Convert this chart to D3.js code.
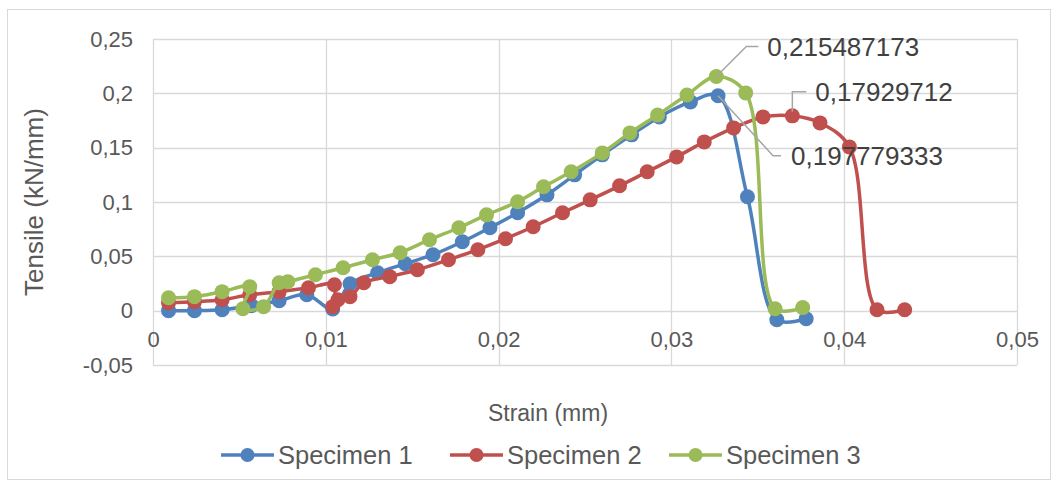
<!DOCTYPE html>
<html>
<head>
<meta charset="utf-8">
<script src="https://cdn.jsdelivr.net/npm/d3@7"></script>
<style>
  html, body { margin: 0; padding: 0; background: #ffffff; }
  svg { display: block; font-family: "Liberation Sans", Arial, sans-serif; }
</style>
</head>
<body>
<svg id="chart" width="1059" height="487"></svg>
<script>
// ---------- data ----------
const seriesNames = ["Specimen 1", "Specimen 2", "Specimen 3"];
const seriesColors = ["#4F81BD", "#C0504D", "#9BBB59"];

const strain1 = [0.0009,0.0024,0.0040,0.0057,0.0073,0.0089,0.0104,0.0114,0.0130,0.0146,0.0162,0.0179,0.0195,0.0211,0.0228,0.0244,0.0260,0.0277,0.0293,0.0311,0.0327,0.0344,0.0361,0.0378];
const tensile1 = [0.0000,0.0000,0.0009,0.0046,0.0092,0.0147,0.0015,0.0248,0.0349,0.0432,0.0515,0.0634,0.0763,0.0901,0.1066,0.1250,0.1434,0.1618,0.1783,0.1921,0.197779333,0.1048,-0.0083,-0.0074];

const strain2 = [0.0009,0.0024,0.0040,0.0056,0.0073,0.0090,0.0105,0.0104,0.0107,0.0114,0.0122,0.0137,0.0153,0.0171,0.0188,0.0204,0.0220,0.0237,0.0253,0.0270,0.0286,0.0303,0.0319,0.0336,0.0353,0.0370,0.0386,0.0403,0.0419,0.0435];
const tensile2 = [0.0074,0.0083,0.0101,0.0147,0.0175,0.0211,0.0239,0.0037,0.0101,0.0129,0.0257,0.0313,0.0377,0.0469,0.0561,0.0662,0.0772,0.0901,0.1020,0.1149,0.1278,0.1415,0.1553,0.1682,0.1783,0.17929712,0.1728,0.1507,0.0009,0.0009];

const strain3 = [0.0009,0.0024,0.0040,0.0056,0.0052,0.0064,0.0073,0.0078,0.0094,0.0110,0.0127,0.0143,0.0160,0.0177,0.0193,0.0211,0.0226,0.0242,0.0260,0.0276,0.0292,0.0309,0.0326,0.0343,0.0360,0.0376];
const tensile3 = [0.0119,0.0129,0.0175,0.0221,0.0018,0.0037,0.0257,0.0267,0.0331,0.0395,0.0469,0.0533,0.0653,0.0763,0.0882,0.1002,0.1140,0.1278,0.1452,0.1636,0.1801,0.1985,0.215487173,0.2004,0.0018,0.0028];

const xTicks = [0, 0.01, 0.02, 0.03, 0.04, 0.05];
const xTickLabels = ["0", "0,01", "0,02", "0,03", "0,04", "0,05"];
const yTicks = [-0.05, 0, 0.05, 0.1, 0.15, 0.2, 0.25];
const yTickLabels = ["-0,05", "0", "0,05", "0,1", "0,15", "0,2", "0,25"];

const xTitle = "Strain (mm)";
const yTitle = "Tensile (kN/mm)";

// ---------- layout ----------
const plot = { left: 153, right: 1017, top: 39, bottom: 365 };
const textColor = "#595959";
const gridColor = "#D9D9D9";
const fontFam = "'Liberation Sans', Arial, sans-serif";

const svg = d3.select("#chart");

// chart border
svg.append("rect")
  .attr("x", 7.5).attr("y", 9.5)
  .attr("width", 1043).attr("height", 470)
  .attr("fill", "#fff").attr("stroke", gridColor).attr("stroke-width", 1);

const x = d3.scaleLinear().domain([0, 0.05]).range([plot.left, plot.right]);
const y = d3.scaleLinear().domain([-0.05, 0.25]).range([plot.bottom, plot.top]);

// gridlines
const grid = svg.append("g");
grid.selectAll("line.h").data(yTicks).join("line")
  .attr("x1", plot.left).attr("x2", plot.right)
  .attr("y1", d => Math.round(y(d)) + 0.5).attr("y2", d => Math.round(y(d)) + 0.5)
  .attr("stroke", gridColor).attr("stroke-width", 1.3);
grid.selectAll("line.v").data(xTicks).join("line")
  .attr("y1", plot.top).attr("y2", plot.bottom)
  .attr("x1", d => Math.round(x(d)) + 0.5).attr("x2", d => Math.round(x(d)) + 0.5)
  .attr("stroke", gridColor).attr("stroke-width", 1.3);

// y axis labels
const yAxis = d3.axisLeft(y).tickValues(yTicks)
  .tickFormat((d, i) => yTickLabels[i]).tickSize(0).tickPadding(20);
const gy = svg.append("g").attr("transform", `translate(${plot.left},0)`).call(yAxis);
gy.select(".domain").remove();
gy.selectAll("text").attr("fill", textColor).style("font-size", "22px")
  .style("font-family", fontFam);

// x axis labels (next to the zero line)
const xAxis = d3.axisBottom(x).tickValues(xTicks)
  .tickFormat((d, i) => xTickLabels[i]).tickSize(0).tickPadding(21);
const gx = svg.append("g").attr("transform", `translate(0,${y(0)})`).call(xAxis);
gx.select(".domain").remove();
gx.selectAll("text").attr("fill", textColor).style("font-size", "22px")
  .style("font-family", fontFam);

// axis titles
svg.append("text")
  .attr("transform", `translate(43,${(plot.top + plot.bottom) / 2}) rotate(-90)`)
  .attr("text-anchor", "middle")
  .attr("fill", textColor).style("font-size", "26px").text(yTitle);
svg.append("text")
  .attr("x", (plot.left + plot.right) / 2 - 37).attr("y", 421)
  .attr("text-anchor", "middle")
  .attr("fill", textColor).style("font-size", "23px").text(xTitle);

// series
const series = [
  { xs: strain1, ys: tensile1 },
  { xs: strain2, ys: tensile2 },
  { xs: strain3, ys: tensile3 }
];
const line = d3.line()
  .x(d => x(d[0])).y(d => y(d[1]))
  .curve(d3.curveCatmullRom.alpha(0.5));

series.forEach((s, i) => {
  const pts = s.xs.map((v, j) => [v, s.ys[j]]);
  const g = svg.append("g");
  g.append("path").datum(pts)
    .attr("d", line).attr("fill", "none")
    .attr("stroke", seriesColors[i]).attr("stroke-width", 3.5)
    .attr("stroke-linejoin", "round").attr("stroke-linecap", "round");
  g.selectAll("circle").data(pts).join("circle")
    .attr("cx", d => x(d[0])).attr("cy", d => y(d[1]))
    .attr("r", 7.5).attr("fill", seriesColors[i]);
});

// peak data labels with leader lines
const labelOffsets = [
  { leader: [[0, 0], [55, 60], [63, 60]], tx: 73, ty: 60 },     // specimen 1
  { leader: [[0, -4], [0, -24], [14, -24]], tx: 23, ty: -24 },   // specimen 2
  { leader: [[0, 0], [30, -30], [42, -30]], tx: 51, ty: -30 }    // specimen 3
];
const labels = svg.append("g");
series.forEach((s, i) => {
  const k = d3.maxIndex(s.ys);
  const px = x(s.xs[k]), py = y(s.ys[k]);
  const o = labelOffsets[i];
  labels.append("polyline")
    .attr("points", o.leader.map(p => [px + p[0], py + p[1]].join(",")).join(" "))
    .attr("fill", "none").attr("stroke", "#A6A6A6").attr("stroke-width", 1.5);
  labels.append("text")
    .attr("x", px + o.tx).attr("y", py + o.ty)
    .attr("dy", "0.35em")
    .attr("fill", "#404040").style("font-size", "26px")
    .text(String(s.ys[k]).replace(".", ","));
});

// legend
const legendItems = [
  { x0: 221 }, { x0: 450 }, { x0: 669 }
];
const legend = svg.append("g");
seriesNames.forEach((name, i) => {
  const lx = legendItems[i].x0, ly = 455;
  legend.append("line")
    .attr("x1", lx).attr("x2", lx + 53).attr("y1", ly).attr("y2", ly)
    .attr("stroke", seriesColors[i]).attr("stroke-width", 3.5);
  legend.append("circle").attr("cx", lx + 26.5).attr("cy", ly).attr("r", 7)
    .attr("fill", seriesColors[i]);
  legend.append("text")
    .attr("x", lx + 57).attr("y", ly).attr("dy", "0.35em")
    .attr("fill", textColor).style("font-size", "25.5px").text(name);
});
</script>
</body>
</html>
